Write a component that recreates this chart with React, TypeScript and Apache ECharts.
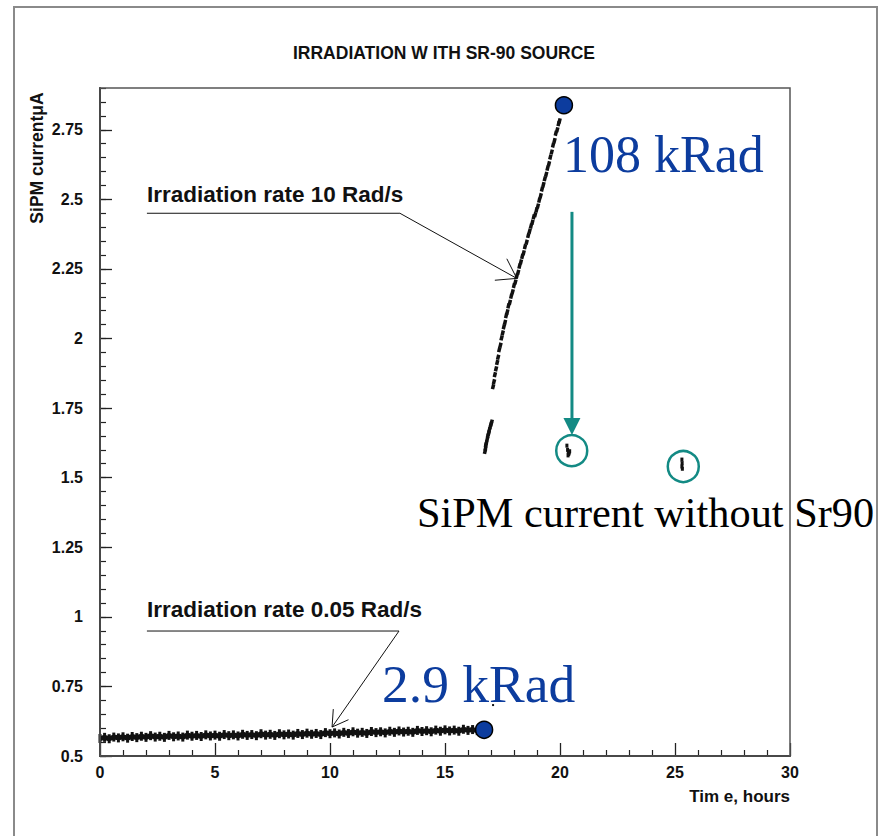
import React, { useEffect, useRef } from "react";
import * as echarts from "echarts";

// ---------- data (hours, µA) ----------
const titleText = "IRRADIATION W ITH SR-90 SOURCE";
const xAxisName = "Tim e, hours";
const yAxisName = "SiPM current\u03bcA";

const lowRateTime = [
  0.0, 0.2, 0.4, 0.6, 0.8, 1.0, 1.2, 1.4, 1.6, 1.8,
  2.0, 2.2, 2.4, 2.6, 2.8, 3.0, 3.2, 3.4, 3.6, 3.8,
  4.0, 4.2, 4.4, 4.6, 4.8, 5.0, 5.2, 5.4, 5.6, 5.8,
  6.0, 6.2, 6.4, 6.6, 6.8, 7.0, 7.2, 7.4, 7.6, 7.8,
  8.0, 8.2, 8.4, 8.6, 8.8, 9.0, 9.2, 9.4, 9.6, 9.8,
  10.0, 10.2, 10.4, 10.6, 10.8, 11.0, 11.2, 11.4, 11.6, 11.8,
  12.0, 12.2, 12.4, 12.6, 12.8, 13.0, 13.2, 13.4, 13.6, 13.8,
  14.0, 14.2, 14.4, 14.6, 14.8, 15.0, 15.2, 15.4, 15.6, 15.8,
  16.0, 16.2, 16.4, 16.6,
];
const lowRateCurrent = [
  0.563, 0.567, 0.562, 0.568, 0.565, 0.569, 0.564, 0.570, 0.566, 0.571,
  0.567, 0.573, 0.568, 0.571, 0.567, 0.574, 0.569, 0.572, 0.568, 0.575,
  0.571, 0.574, 0.570, 0.576, 0.572, 0.575, 0.571, 0.577, 0.573, 0.576,
  0.572, 0.578, 0.574, 0.577, 0.573, 0.580, 0.575, 0.578, 0.574, 0.580,
  0.576, 0.579, 0.575, 0.581, 0.577, 0.582, 0.578, 0.581, 0.577, 0.584,
  0.580, 0.583, 0.579, 0.585, 0.581, 0.587, 0.582, 0.585, 0.581, 0.588,
  0.584, 0.587, 0.583, 0.589, 0.585, 0.590, 0.586, 0.589, 0.585, 0.592,
  0.588, 0.591, 0.587, 0.593, 0.589, 0.594, 0.590, 0.593, 0.589, 0.596,
  0.592, 0.595, 0.591, 0.596,
];

const highRateTime = [
  16.74, 16.76, 16.78, 16.80, 16.84, 16.87, 16.90, 16.93, 16.97, 17.00, 17.03,
  17.09, 17.13, 17.17, 17.22, 17.27, 17.31, 17.36, 17.41, 17.46, 17.51,
  17.56, 17.61, 17.66, 17.71, 17.76, 17.82, 17.88, 17.94, 18.00, 18.06,
  18.12, 18.18, 18.24, 18.30, 18.36, 18.42, 18.48, 18.55, 18.62, 18.68,
  18.74, 18.80, 18.86, 18.92, 18.98, 19.04, 19.10, 19.16, 19.22, 19.28,
  19.34, 19.40, 19.46, 19.52, 19.58, 19.64, 19.70, 19.76, 19.82, 19.88,
  19.94, 19.98,
];
const highRateCurrent = [
  1.594, 1.605, 1.618, 1.625, 1.640, 1.652, 1.660, 1.672, 1.683, 1.692, 1.700,
  1.827, 1.845, 1.870, 1.891, 1.914, 1.933, 1.960, 1.976, 2.002, 2.020,
  2.042, 2.058, 2.082, 2.096, 2.117, 2.130, 2.152, 2.168, 2.190, 2.203,
  2.224, 2.238, 2.260, 2.275, 2.295, 2.308, 2.330, 2.346, 2.370, 2.386,
  2.404, 2.418, 2.437, 2.445, 2.462, 2.476, 2.497, 2.513, 2.537, 2.553,
  2.574, 2.590, 2.612, 2.628, 2.652, 2.670, 2.695, 2.711, 2.737, 2.750,
  2.772, 2.782,
];

const afterSourceTime = [20.30, 20.33, 20.36, 20.38, 20.40, 20.35, 20.42, 25.30, 25.31, 25.30, 25.32];
const afterSourceCurrent = [1.615, 1.600, 1.592, 1.585, 1.590, 1.580, 1.595, 1.565, 1.552, 1.540, 1.532];

const strayTime = [17.09];
const strayCurrent = [0.683];

const endTime = [16.7, 20.17];
const endCurrent = [0.594, 2.838];

const ringTime = [20.51, 25.36];
const ringCurrent = [1.597, 1.540];

// teal arrow (time, current) from -> to
const dropArrowTime = [20.52, 20.52];
const dropArrowCurrent = [2.455, 1.653];

// annotation leader lines: start, corner, tip
const highLeaderTime = [2.04, 13.04, 18.12];
const highLeaderCurrent = [2.45, 2.45, 2.216];
const lowLeaderTime = [2.04, 13.0, 10.09];
const lowLeaderCurrent = [0.949, 0.949, 0.604];

const BLUE = "#0c3c9e";
const TEAL = "#138a84";
const SANS = '"Liberation Sans", Arial, sans-serif';
const SERIF = '"Liberation Serif", "Times New Roman", serif';

const zip = (a: number[], b: number[]) => a.map((v, i) => [v, b[i]]);

function wings(tip: number[], from: number[], len: number, deg: number) {
  const dx = from[0] - tip[0];
  const dy = from[1] - tip[1];
  const d = Math.hypot(dx, dy) || 1;
  const ux = dx / d, uy = dy / d;
  const t = (deg * Math.PI) / 180;
  const c = Math.cos(t), s = Math.sin(t);
  const w1 = [tip[0] + len * (ux * c - uy * s), tip[1] + len * (ux * s + uy * c)];
  const w2 = [tip[0] + len * (ux * c + uy * s), tip[1] + len * (-ux * s + uy * c)];
  return [w1, w2];
}

export default function App() {
  const ref = useRef<HTMLDivElement>(null);
  useEffect(() => {
    document.body.style.margin = "0";
    if (!ref.current) return;
    const chart = echarts.init(ref.current, null, { renderer: "svg" });
    const labelStyle = { fontFamily: SANS, fontWeight: "bold" as const, fontSize: 16, color: "#111" };
    chart.setOption({
      animation: false,
      backgroundColor: "#fff",
      grid: { left: 100, top: 88, width: 690, height: 668 },
      xAxis: [
        {
          type: "value", min: 0, max: 30, interval: 5, position: "bottom",
          axisLine: { show: true, onZero: false, lineStyle: { color: "#222", width: 2 } },
          axisTick: { show: true, inside: true, length: 13, lineStyle: { color: "#222", width: 1.3 } },
          minorTick: { show: true, splitNumber: 5, length: 6, lineStyle: { color: "#222", width: 1.2 } },
          axisLabel: { ...labelStyle, margin: 8 },
          splitLine: { show: false },
        },
      ],
      yAxis: [
        {
          type: "value", min: 0.5, max: 2.9, interval: 0.25, position: "left",
          axisLine: { show: true, onZero: false, lineStyle: { color: "#222", width: 2 } },
          axisTick: { show: true, inside: true, length: 12, lineStyle: { color: "#222", width: 1.3 } },
          axisLabel: { ...labelStyle, margin: 17, showMaxLabel: false },
          splitLine: { show: false },
        },
        {
          type: "value", min: 0.5, max: 2.9, interval: 0.05, position: "left",
          axisLine: { show: false },
          axisTick: { show: true, inside: true, length: 6, lineStyle: { color: "#222", width: 1.2 } },
          axisLabel: { show: false },
          splitLine: { show: false },
        },
      ],
      series: [
        {
          name: "low rate", type: "line", data: zip(lowRateTime, lowRateCurrent),
          showSymbol: true, symbol: "rect", symbolSize: [3, 9],
          itemStyle: { color: "#111", opacity: 1 },
          lineStyle: { color: "#111", width: 5 }, z: 2,
        },
        {
          name: "high rate", type: "scatter", data: zip(highRateTime, highRateCurrent),
          symbol: "rect", symbolSize: [3.5, 5], symbolRotate: -14,
          itemStyle: { color: "#111", opacity: 1 }, z: 2,
        },
        {
          name: "after source", type: "scatter", data: zip(afterSourceTime, afterSourceCurrent),
          symbol: "rect", symbolSize: [3, 4], itemStyle: { color: "#111", opacity: 1 }, z: 2,
        },
        {
          name: "stray", type: "scatter", data: zip(strayTime, strayCurrent),
          symbol: "rect", symbolSize: 2, itemStyle: { color: "#111", opacity: 1 }, z: 2,
        },
        {
          name: "rings", type: "scatter", data: zip(ringTime, ringCurrent),
          symbol: "circle", symbolSize: 31,
          itemStyle: { color: "rgba(0,0,0,0)", borderColor: TEAL, borderWidth: 2.5, opacity: 1 }, z: 3,
        },
        {
          name: "end points", type: "scatter", data: zip(endTime, endCurrent),
          symbol: "circle", symbolSize: 17,
          itemStyle: { color: BLUE, borderColor: "#000", borderWidth: 1.5, opacity: 1 }, z: 5,
        },
      ],
    });

    const px = (x: number, y: number) =>
      chart.convertToPixel({ xAxisIndex: 0, yAxisIndex: 0 }, [x, y]) as number[];

    const tl = px(0, 2.9);
    const br = px(30, 0.5);

    const hi = highLeaderTime.map((t, i) => px(t, highLeaderCurrent[i]));
    const lo = lowLeaderTime.map((t, i) => px(t, lowLeaderCurrent[i]));
    const hiW = wings(hi[2], hi[1], 22, 34);
    const loW = wings(lo[2], lo[1], 18, 31);

    const aTop = px(dropArrowTime[0], dropArrowCurrent[0]);
    const aTip = px(dropArrowTime[1], dropArrowCurrent[1]);
    const headLen = 17, headHalf = 8.5;

    const txt = (text: string, x: number, y: number, font: string, fill: string, align = "left", extra: any = {}) => ({
      type: "text", x, y, z: 10, ...extra,
      style: { text, font, fill, align, textAlign: align, verticalAlign: "middle", textVerticalAlign: "middle" },
    });

    chart.setOption({
      graphic: {
        elements: [
          { type: "rect", z: 1, shape: { x: 14, y: 7, width: 863, height: 840 },
            style: { fill: "none", stroke: "#8a8a8a", lineWidth: 2 } },
          { type: "rect", z: 100, shape: { x: tl[0], y: tl[1], width: br[0] - tl[0], height: br[1] - tl[1] },
            style: { fill: "none", stroke: "#555", lineWidth: 1.5 } },
          txt(titleText, 444, 53, `bold 17.5px ${SANS}`, "#111", "center"),
          txt(yAxisName, 37, 158, `bold 17.5px ${SANS}`, "#111", "center", { rotation: Math.PI / 2 }),
          txt(xAxisName, 790, 796, `bold 17px ${SANS}`, "#111", "right"),
          txt("Irradiation rate 10 Rad/s", 147, 194.5, `bold 22.5px ${SANS}`, "#111"),
          txt("Irradiation rate 0.05 Rad/s", 147, 609.7, `bold 22.5px ${SANS}`, "#111"),
          txt("108 kRad", 563, 154.5, `52px ${SERIF}`, BLUE),
          txt("2.9 kRad", 382, 683.5, `53.5px ${SERIF}`, BLUE),
          txt("SiPM current without Sr90", 417, 512, `42.3px ${SERIF}`, "#000"),
          { type: "polyline", z: 20, shape: { points: hi }, style: { fill: "none", stroke: "#111", lineWidth: 1 } },
          { type: "polyline", z: 20, shape: { points: [hiW[0], hi[2], hiW[1]] }, style: { fill: "none", stroke: "#111", lineWidth: 1 } },
          { type: "polyline", z: 20, shape: { points: lo }, style: { fill: "none", stroke: "#111", lineWidth: 1 } },
          { type: "polyline", z: 20, shape: { points: [loW[0], lo[2], loW[1]] }, style: { fill: "none", stroke: "#111", lineWidth: 1 } },
          { type: "line", z: 20, shape: { x1: aTop[0], y1: aTop[1], x2: aTip[0], y2: aTip[1] - headLen + 2 },
            style: { stroke: TEAL, lineWidth: 3 } },
          { type: "polygon", z: 20,
            shape: { points: [[aTip[0], aTip[1]], [aTip[0] - headHalf, aTip[1] - headLen], [aTip[0] + headHalf, aTip[1] - headLen]] },
            style: { fill: TEAL } },
        ],
      },
    });

    return () => chart.dispose();
  }, []);
  return <div ref={ref} style={{ width: 889, height: 836 }} />;
}
